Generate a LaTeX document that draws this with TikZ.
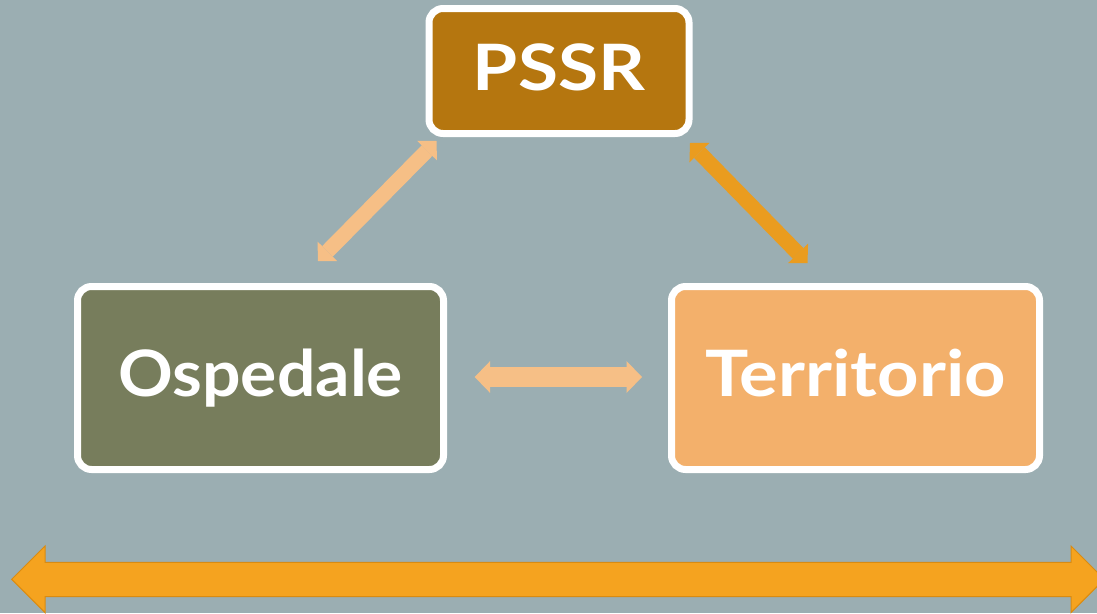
\documentclass[tikz,border=0pt]{standalone}
\usepackage{graphicx}
\usepackage{fontspec}
\setmainfont{Lato}
\usetikzlibrary{arrows.meta}
\definecolor{bg}{RGB}{155,174,178}
\definecolor{pssrfill}{RGB}{181,118,15}
\definecolor{ospfill}{RGB}{119,125,92}
\definecolor{terfill}{RGB}{243,176,107}
\definecolor{peach}{RGB}{246,191,134}
\definecolor{darkorange}{RGB}{234,156,31}
\definecolor{bigorange}{RGB}{245,163,31}
\definecolor{bigedge}{RGB}{217,139,18}
\begin{document}
\begin{tikzpicture}[x=1pt,y=-1pt,
  box/.style={draw=white, line width=7pt, rounded corners=14pt, inner sep=0pt,
    text=white, align=center, font=\bfseries\fontsize{64}{70}\selectfont},
  conn/.style={line width=#1},
  tipdiag/.style={{Triangle[length=13.5pt,width=28pt,line width=0pt]}-{Triangle[length=13.5pt,width=28pt,line width=0pt]}},
  tiph/.style={{Triangle[length=15.3pt,width=31.6pt,line width=0pt]}-{Triangle[length=15.3pt,width=31.6pt,line width=0pt]}}
]
\useasboundingbox (0,0) rectangle (1097,613);
\fill[bg] (0,0) rectangle (1097,613);
\clip (0,0) rectangle (1097,613);

\node[box, fill=pssrfill, minimum width=260pt, minimum height=125pt,
  text height=46pt, text depth=8pt]
  (pssr) at (559,71) {\scalebox{1.14}[1]{PSSR}};
\node[box, fill=ospfill, minimum width=366pt, minimum height=183pt,
  text height=46pt, text depth=10pt]
  (osp) at (260.5,378) {\scalebox{1.06}[1]{Ospedale}};
\node[box, fill=terfill, minimum width=368pt, minimum height=183pt,
  text height=46pt, text depth=10pt]
  (ter) at (855.5,378) {\scalebox{1.13}[1]{Territorio}};

\coordinate (lA) at (318,261);
\coordinate (lB) at (436.5,141);
\coordinate (rA) at (690,143);
\coordinate (rB) at (807.5,263);
\coordinate (hA) at (474.7,377);
\coordinate (hB) at (642,377);

\draw[peach, conn=15pt, tipdiag] (lA) -- (lB);
\draw[darkorange, conn=15pt, tipdiag] (rA) -- (rB);
\draw[peach, conn=19.5pt, tiph] (hA) -- (hB);

\filldraw[fill=bigorange, draw=bigedge, line width=1pt]
  (11.7,579.3) -- (45,546) -- (45,562.3) -- (1071,562.3) -- (1071,546)
  -- (1104.3,579.3) -- (1071,612.6) -- (1071,596.7) -- (45,596.7)
  -- (45,612.6) -- cycle;
\end{tikzpicture}
\end{document}
